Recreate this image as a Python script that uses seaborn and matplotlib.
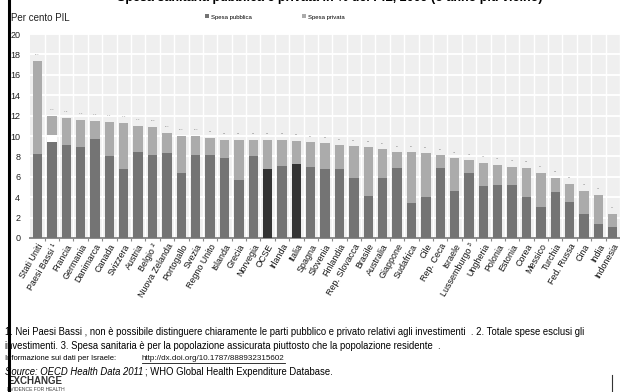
import matplotlib
matplotlib.use("Agg")
import matplotlib.pyplot as plt
import seaborn as sns
from matplotlib.patches import Patch
from matplotlib.lines import Line2D

# Health spending as share of GDP, public and private parts
countries = ["Stati Uniti", "Paesi Bassi ¹", "Francia", "Germania", "Danimarca", "Canada",
             "Svizzera", "Austria", "Belgio ²", "Nuova Zelanda", "Portogallo", "Svezia",
             "Regno Unito", "Islanda", "Grecia", "Norvegia", "OCSE", "Irlanda", "Italia",
             "Spagna", "Slovenia", "Finlandia", "Rep. Slovacca", "Brasile", "Australia",
             "Giappone", "Sudafrica", "Cile", "Rep. Ceca", "Israele", "Lussemburgo ³",
             "Ungheria", "Polonia", "Estonia", "Corea", "Messico", "Turchia", "Fed. Russa",
             "Cina", "India", "Indonesia"]
totale = [17.4, 12.0, 11.8, 11.6, 11.5, 11.4, 11.3, 11.0, 10.9, 10.3, 10.0, 10.0,
          9.8, 9.6, 9.6, 9.6, 9.6, 9.6, 9.5, 9.4, 9.3, 9.1, 9.0, 8.9, 8.7,
          8.4, 8.4, 8.3, 8.1, 7.8, 7.6, 7.4, 7.2, 7.0, 6.9, 6.4, 5.9, 5.3,
          4.6, 4.25, 2.35]
pubblica = [8.2, 9.4, 9.1, 8.9, 9.7, 8.0, 6.8, 8.4, 8.1, 8.3, 6.4, 8.1,
            8.1, 7.8, 5.7, 8.0, 6.8, 7.1, 7.3, 7.0, 6.8, 6.8, 5.9, 4.1, 5.9,
            6.9, 3.4, 4.0, 6.9, 4.6, 6.4, 5.1, 5.2, 5.2, 4.0, 3.0, 4.5, 3.5,
            2.35, 1.4, 1.1]
# Netherlands: part not attributable to public or private (investments)
non_ripartita = {"Paesi Bassi ¹": 10.1}
evidenziati = ["OCSE", "Italia"]
y_ticks = [0, 2, 4, 6, 8, 10, 12, 14, 16, 18, 20]

C_PUB = "#747474"
C_PRIV = "#ababab"
C_DARK = "#333333"
C_BG = "#efefef"

plt.rcParams["font.family"] = ["Liberation Sans", "DejaVu Sans"]

fig = plt.figure(figsize=(6.2, 3.92), dpi=100)
W, H = 620, 392
ax = fig.add_axes([30 / W, 1 - 238 / H, 590 / W, 204 / H])
ax.set_facecolor(C_BG)

bw = 0.65
gap_top = [non_ripartita.get(c, p) for c, p in zip(countries, pubblica)]
pub_colors = {c: (C_DARK if c in evidenziati else C_PUB) for c in countries}

sns.barplot(x=countries, y=totale, color=C_PRIV, saturation=1, width=bw,
            errorbar=None, ax=ax, zorder=2)
sns.barplot(x=countries, y=gap_top, color="white", saturation=1, width=bw,
            errorbar=None, ax=ax, zorder=3)
sns.barplot(x=countries, y=pubblica, hue=countries, palette=pub_colors, saturation=1,
            width=bw, errorbar=None, legend=False, ax=ax, zorder=4)

# tiny total labels above each bar
for i, t in enumerate(totale):
    ax.text(i, t + 0.55, f"{t:.1f}", ha="center", va="bottom", fontsize=1.6,
            color="#777777", zorder=5)

ax.set_xlim(-0.52, 40.34)
ax.set_ylim(0, 20)
ax.set_yticks(y_ticks)
ax.set_yticklabels([str(v) for v in y_ticks], fontsize=6.5, color="#222222")
ax.tick_params(axis="y", length=0, pad=7)

ax.set_xticks(range(len(countries)))
ax.set_xticklabels(countries, rotation=60, ha="right", rotation_mode="anchor",
                   fontsize=6.4, color="#111111")
ax.tick_params(axis="x", length=0, pad=3)
ax.set_xticks([i + 0.5 for i in range(len(countries))], minor=True)
ax.tick_params(axis="x", which="minor", length=2.5, color="#888888", width=0.8)
ax.set_xlabel("")
ax.set_ylabel("")

ax.grid(axis="y", color="white", linewidth=1.4, zorder=0)
ax.grid(axis="x", which="minor", color="white", linewidth=1.0, zorder=0)
ax.grid(axis="x", which="major", visible=False)
ax.set_axisbelow(True)
for s in ["left", "right", "top"]:
    ax.spines[s].set_visible(False)
ax.spines["bottom"].set_color("#8a8a8a")
ax.spines["bottom"].set_linewidth(1.4)

# header (runs off the top edge)
fig.text(330 / W, 1 - 1 / H, "Spesa sanitaria pubblica e privata in % del PIL, 2009 (o anno più vicino)",
         ha="center", va="baseline", fontsize=9, fontweight="bold")
fig.text(11 / W, 1 - 18 / H, "Per cento PIL", ha="left", va="center", fontsize=7,
         color="#222222")
handles = [Patch(facecolor=C_PUB, label="Spesa pubblica"),
           Patch(facecolor=C_PRIV, label="Spesa privata")]
fig.legend(handles=handles, loc="center left", bbox_to_anchor=(200 / W, 1 - 17 / H),
           ncol=2, frameon=False, fontsize=4.3, handlelength=0.6, handleheight=0.6,
           handletextpad=0.3, columnspacing=8.5)

# notes
fs = 6.85
fig.text(5 / W, 1 - 332 / H,
         "1. Nei Paesi Bassi , non è possibile distinguere chiaramente le parti pubblico e privato "
         "relativi agli investimenti  . 2. Totale spese esclusi gli",
         ha="left", va="center", fontsize=fs)
fig.text(5 / W, 1 - 346 / H,
         "investimenti. 3. Spesa sanitaria è per la popolazione assicurata piuttosto che la "
         "popolazione residente  .",
         ha="left", va="center", fontsize=fs)
fig.text(5 / W, 1 - 359 / H, "Informazione sui dati per Israele:", ha="left", va="center",
         fontsize=5.5)
link = fig.text(142 / W, 1 - 359 / H, "http://dx.doi.org/10.1787/888932315602", ha="left",
                va="center", fontsize=5.8, color="#111111")
src = fig.text(5 / W, 1 - 372 / H, "Source: OECD Health Data 2011", ha="left", va="center",
               fontsize=fs, style="italic")
r = fig.canvas.get_renderer()
bb = src.get_window_extent(r)
fig.text((bb.x1 + 2) / W, 1 - 372 / H, "; WHO Global Health Expenditure Database.",
         ha="left", va="center", fontsize=fs)
lb = link.get_window_extent(r)
fig.add_artist(Line2D([lb.x0 / W, lb.x1 / W], [1 - 363 / H, 1 - 363 / H], color="#111111",
                      linewidth=0.6))
fig.text(7 / W, 1 - 381 / H, "EXCHANGE", ha="left", va="center", fontsize=7,
         fontweight="bold", color="#333333")
fig.text(7 / W, 1 - 389.5 / H, "EVIDENCE FOR HEALTH", ha="left", va="center", fontsize=3.6,
         color="#444444")

# frame lines
fig.add_artist(Line2D([9 / W, 9 / W], [0, 1], color="black", linewidth=2.2, zorder=10))
fig.add_artist(Line2D([612 / W, 612 / W], [0, 1 - 375 / H], color="#333333",
                      linewidth=0.8, zorder=10))

fig.savefig("out.png", dpi=100)
